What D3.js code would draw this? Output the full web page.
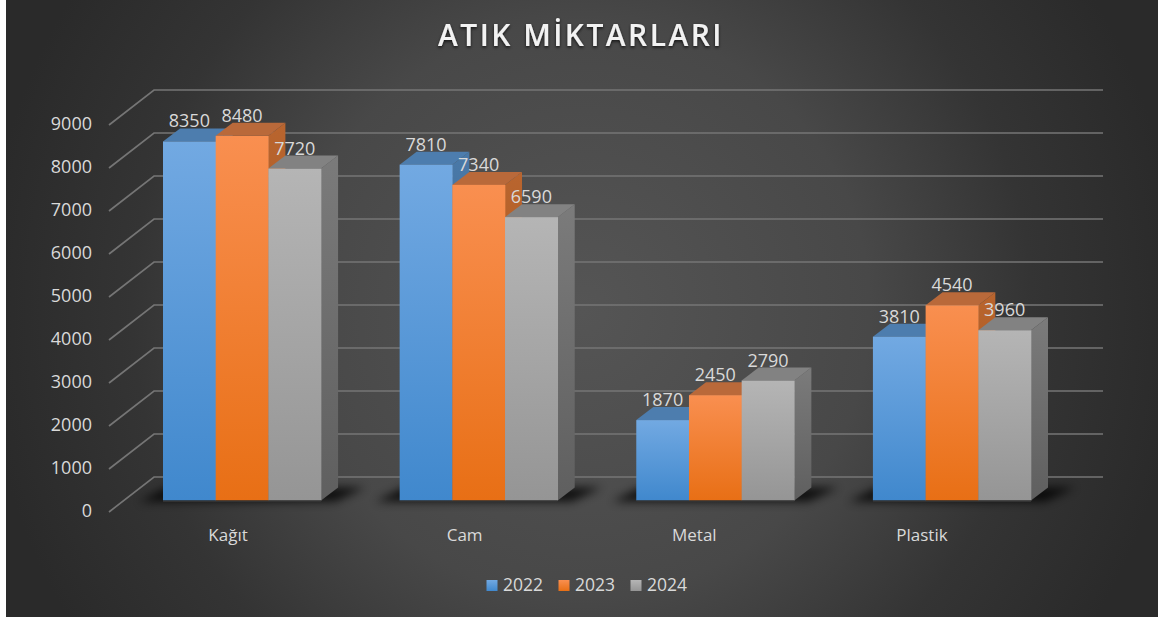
<!DOCTYPE html>
<html lang="tr">
<head>
<meta charset="utf-8">
<script src="https://cdn.jsdelivr.net/npm/d3@7/dist/d3.min.js"></script>
<style>
html,body{margin:0;padding:0;background:#fff;}
svg{display:block;}
text{font-family:"Open Sans",sans-serif;fill:#d9d9d9;}
</style>
</head>
<body>
<script>
const title = "ATIK MİKTARLARI";
const categories = ["Kağıt", "Cam", "Metal", "Plastik"];
const years = ["2022", "2023", "2024"];
const values2022 = [8350, 7810, 1870, 3810];
const values2023 = [8480, 7340, 2450, 4540];
const values2024 = [7720, 6590, 2790, 3960];
const yTicks = [0, 1000, 2000, 3000, 4000, 5000, 6000, 7000, 8000, 9000];
const seriesValues = [values2022, values2023, values2024];

const frontColors = [["#72a9e2", "#4088cd"], ["#f98f50", "#e86f15"], ["#b5b5b5", "#959595"]];
const topColors = ["#4d7dae", "#b9693a", "#828282"];
const sideColors = [["#4a79a8", "#2f5d8a"], ["#b9652f", "#a05010"], ["#7b7b7b", "#5f5f5f"]];

const W = 1158, H = 621;
const svg = d3.select("body").append("svg").attr("width", W).attr("height", H);
const defs = svg.append("defs");

const bg = defs.append("radialGradient").attr("id", "bg").attr("gradientUnits", "userSpaceOnUse")
  .attr("cx", 582).attr("cy", 310).attr("r", 600);
bg.append("stop").attr("offset", "0%").attr("stop-color", "#555555");
bg.append("stop").attr("offset", "48%").attr("stop-color", "#484848");
bg.append("stop").attr("offset", "75%").attr("stop-color", "#343434");
bg.append("stop").attr("offset", "100%").attr("stop-color", "#2a2a2a");

function vGrad(id, c) {
  const g = defs.append("linearGradient").attr("id", id).attr("x1", 0).attr("y1", 0).attr("x2", 0).attr("y2", 1);
  g.append("stop").attr("offset", "0%").attr("stop-color", c[0]);
  g.append("stop").attr("offset", "100%").attr("stop-color", c[1]);
}
frontColors.forEach((c, i) => vGrad("front" + i, c));
sideColors.forEach((c, i) => vGrad("side" + i, c));

defs.append("filter").attr("id", "blur").attr("x", "-20%").attr("y", "-100%").attr("width", "140%").attr("height", "300%")
  .append("feGaussianBlur").attr("stdDeviation", 5);
const ts = defs.append("filter").attr("id", "ts").attr("x", "-5%").attr("y", "-20%").attr("width", "110%").attr("height", "150%");
ts.append("feDropShadow").attr("dx", 0).attr("dy", 1.5).attr("stdDeviation", 1.5).attr("flood-color", "#000").attr("flood-opacity", 0.75);

svg.append("rect").attr("x", 6).attr("y", 0).attr("width", W - 6).attr("height", 617).attr("fill", "url(#bg)");

svg.append("text").attr("x", 581).attr("y", 46).attr("text-anchor", "middle")
  .attr("font-size", 30).attr("font-weight", 600).attr("letter-spacing", 2.45)
  .attr("filter", "url(#ts)").style("fill", "#f2f2f2").text(title);

// scales
const x = d3.scaleBand().domain(categories).range([163, 1031]).paddingInner(0.332).paddingOuter(0);
const xInner = d3.scaleBand().domain(years).range([0, x.bandwidth()]);
const y = d3.scaleLinear().domain([0, 9000]).range([500.5, 113.5]);

// depth offsets
const barDx = 17, barDy = 13;
const wallFrontDy = 11.5;
const wallBackDy = -23.5;
const wallBackX = 154, wallEndX = 1103, axisX = 109;

// wall gridlines
const grid = svg.append("g").attr("stroke", "#757575").attr("stroke-width", 1.7).attr("fill", "none");
grid.selectAll("path").data(yTicks).join("path")
  .attr("d", t => `M${axisX},${y(t) + wallFrontDy}L${wallBackX},${y(t) + wallBackDy}L${wallEndX},${y(t) + wallBackDy}`);

// y-axis labels through d3 axis
const yLabelScale = y.copy().range(y.range().map(v => v + wallFrontDy - 1));
const yAxis = svg.append("g").attr("transform", "translate(92,0)")
  .call(d3.axisLeft(yLabelScale).tickValues(yTicks).tickSize(0).tickPadding(0).tickFormat(d3.format("d")));
yAxis.select(".domain").remove();
yAxis.selectAll("text").attr("font-size", 18).attr("font-family", '"Open Sans",sans-serif').style("fill", "#d9d9d9");

// floor shadows
const shadow = svg.append("g");
categories.forEach(c => {
  const x0 = x(c), x1 = x0 + x.bandwidth();
  shadow.append("polygon")
    .attr("points", [[x0 - 24, y(0) + 1], [x1 + 14, y(0) + 1], [x1 + 44, y(0) - 13], [x0 + 4, y(0) - 13]].join(" "))
    .attr("fill", "#000").attr("opacity", 0.8).attr("filter", "url(#blur)");
});

// bars
const bars = svg.append("g");
categories.forEach((c, ci) => {
  years.forEach((yr, si) => {
    const v = seriesValues[si][ci];
    const bx = x(c) + xInner(yr), w = xInner.bandwidth(), ty = y(v), by = y(0);
    bars.append("polygon")
      .attr("points", [[bx + w, ty], [bx + w + barDx, ty - barDy], [bx + w + barDx, by - barDy], [bx + w, by]].join(" "))
      .attr("fill", `url(#side${si})`);
    bars.append("polygon")
      .attr("points", [[bx, ty], [bx + barDx, ty - barDy], [bx + w + barDx, ty - barDy], [bx + w, ty]].join(" "))
      .attr("fill", topColors[si]);
    bars.append("rect").attr("x", bx).attr("y", ty).attr("width", w + 0.3).attr("height", by - ty)
      .attr("fill", `url(#front${si})`);
  });
});

// ground line below bars
svg.append("g").selectAll("rect").data(categories).join("rect")
  .attr("x", d => x(d)).attr("y", y(0)).attr("width", x.bandwidth()).attr("height", 1.5)
  .attr("fill", "#333");

// data labels
const labels = svg.append("g").attr("text-anchor", "middle").attr("font-size", 18);
categories.forEach((c, ci) => {
  years.forEach((yr, si) => {
    const v = seriesValues[si][ci];
    labels.append("text")
      .attr("x", x(c) + xInner(yr) + xInner.bandwidth() / 2)
      .attr("y", y(v) - 14)
      .text(v);
  });
});

// category labels
const catShift = [-14, -14, -21, -30];
svg.append("g").attr("text-anchor", "middle").attr("font-size", 17)
  .selectAll("text").data(categories).join("text")
  .attr("x", (d, i) => x(d) + x.bandwidth() / 2 + catShift[i])
  .attr("y", 541).text(d => d);

// legend
const legendX = d3.scalePoint().domain(years).range([486.5, 630.5]);
const leg = svg.append("g").selectAll("g").data(years).join("g")
  .attr("transform", d => `translate(${legendX(d)},580)`);
leg.append("rect").attr("width", 11).attr("height", 11).attr("fill", (d, i) => `url(#front${i})`);
leg.append("text").attr("x", 16.5).attr("y", 11).attr("font-size", 17.5).text(d => d);
</script>
</body>
</html>
